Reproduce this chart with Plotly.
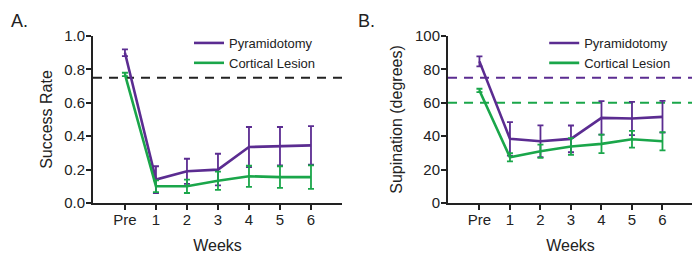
import plotly.graph_objects as go

weeks = ["Pre", "1", "2", "3", "4", "5", "6"]

# Panel A: success rate
pyr_success = [0.90, 0.14, 0.19, 0.20, 0.335, 0.34, 0.345]
pyr_success_err = [0.02, 0.08, 0.075, 0.095, 0.12, 0.115, 0.115]
cort_success = [0.77, 0.10, 0.10, 0.133, 0.16, 0.155, 0.155]
cort_success_err = [0.01, 0.035, 0.04, 0.055, 0.063, 0.065, 0.07]
success_threshold = 0.75

# Panel B: supination
pyr_sup = [84.8, 38.4, 37.0, 38.4, 51.0, 50.6, 51.6]
pyr_sup_err = [3.0, 10.0, 9.5, 8.0, 10.0, 10.0, 9.5]
cort_sup = [67.4, 27.4, 31.0, 33.8, 35.4, 38.2, 37.0]
cort_sup_err = [1.0, 2.5, 4.0, 5.0, 5.5, 5.0, 5.5]
pyr_sup_threshold = 75
cort_sup_threshold = 60

PURPLE = "#5b2c91"
GREEN = "#1aa64a"
FONT = "Arial, Liberation Sans, sans-serif"
INK = "#222222"

fig = go.Figure()

def add(x, y, err, color, name, xa, ya, legend):
    fig.add_trace(go.Scatter(
        x=x, y=y, mode="lines", name=name,
        line=dict(color=color, width=2.6),
        error_y=dict(type="data", array=err, visible=True, color=color,
                     thickness=1.8, width=3),
        xaxis=xa, yaxis=ya, legend=legend,
    ))

add(weeks, pyr_success, pyr_success_err, PURPLE, "Pyramidotomy", "x", "y", "legend")
add(weeks, cort_success, cort_success_err, GREEN, "Cortical Lesion", "x", "y", "legend")
add(weeks, pyr_sup, pyr_sup_err, PURPLE, "Pyramidotomy", "x2", "y2", "legend2")
add(weeks, cort_sup, cort_sup_err, GREEN, "Cortical Lesion", "x2", "y2", "legend2")

def dash_line(yv, color, xref, yref):
    fig.add_shape(type="line", xref=xref, yref=yref, x0=0, x1=1, y0=yv, y1=yv,
                  line=dict(color=color, width=2, dash="9px,7px"), layer="below")

dash_line(success_threshold, INK, "x domain", "y")
dash_line(pyr_sup_threshold, PURPLE, "x2 domain", "y2")
dash_line(cort_sup_threshold, GREEN, "x2 domain", "y2")

axis_common = dict(
    showline=True, linecolor=INK, linewidth=2,
    ticks="outside", ticklen=5, tickwidth=1.5, tickcolor=INK,
    showgrid=False, zeroline=False,
    tickfont=dict(family=FONT, size=15, color=INK),
)

xcommon = dict(axis_common, type="category", categoryorder="array",
               categoryarray=weeks, range=[-1.03, 7], ticklabelstandoff=-3,
               title=dict(text="Weeks", font=dict(family=FONT, size=16, color=INK),
                          standoff=13))

# the page body adds an 8px offset, so margins are shifted to compensate
fig.update_layout(
    width=700, height=263,
    margin=dict(l=85, r=15, t=28, b=68, autoexpand=False),
    plot_bgcolor="white", paper_bgcolor="white",
    font=dict(family=FONT, color=INK),
    xaxis=dict(xcommon, domain=[0, 0.415], anchor="y"),
    xaxis2=dict(xcommon, domain=[0.5917, 1], anchor="y2"),
    yaxis=dict(axis_common, range=[0, 1], tickvals=[0, 0.2, 0.4, 0.6, 0.8, 1.0],
               tickformat=".1f", anchor="x", ticklabelstandoff=-2,
               title=dict(text="Success Rate", font=dict(family=FONT, size=16, color=INK),
                          standoff=8)),
    yaxis2=dict(axis_common, range=[0, 100], tickvals=[0, 20, 40, 60, 80, 100], anchor="x2",
                ticklabelstandoff=-2,
                title=dict(text="Supination (degrees)", font=dict(family=FONT, size=16, color=INK),
                           standoff=8)),
    legend=dict(x=0.16, y=1.048, xanchor="left", yanchor="top", bgcolor="rgba(0,0,0,0)",
                font=dict(family=FONT, size=13, color=INK), itemwidth=30),
    legend2=dict(x=0.752, y=1.048, xanchor="left", yanchor="top", bgcolor="rgba(0,0,0,0)",
                 font=dict(family=FONT, size=13, color=INK), itemwidth=30),
    showlegend=True,
)

top_y = 1 + 27 / 167
fig.add_annotation(text="A.", xref="paper", yref="paper", x=-85 / 600 + 0.002, y=top_y,
                   xanchor="left", yanchor="top", showarrow=False,
                   font=dict(family=FONT, size=18, color=INK))
fig.add_annotation(text="B.", xref="paper", yref="paper", x=(356 - 93) / 600, y=top_y,
                   xanchor="left", yanchor="top", showarrow=False,
                   font=dict(family=FONT, size=18, color=INK))

fig.write_html("out.html")
